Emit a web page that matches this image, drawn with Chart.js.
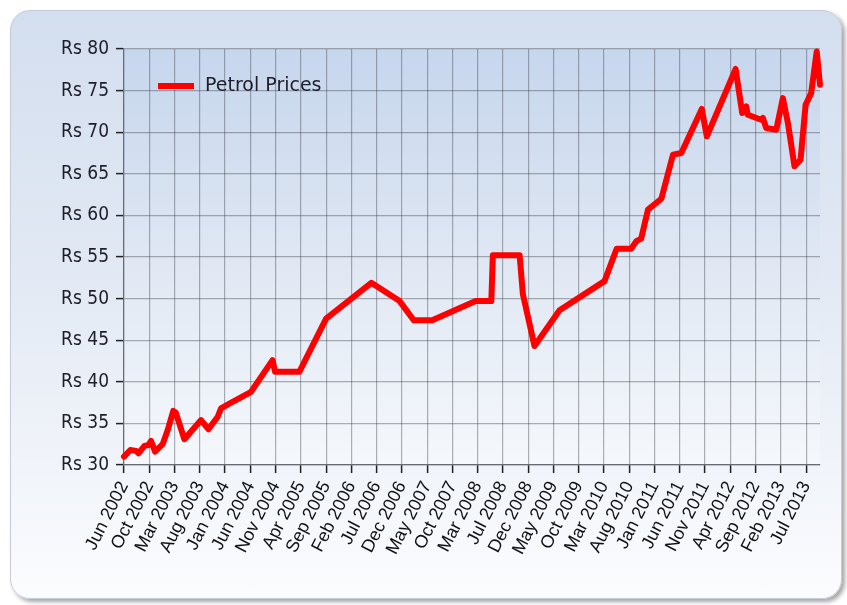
<!DOCTYPE html>
<html>
<head>
<meta charset="utf-8">
<script src="https://cdn.jsdelivr.net/npm/chart.js@4/dist/chart.umd.min.js"></script>
<style>
  html, body { margin: 0; padding: 0; background: #fff; }
  #panel {
    position: absolute; left: 10px; top: 10px; width: 830px; height: 587px;
    border: 1px solid #c3ccd8; border-radius: 20px;
    background: linear-gradient(#d3deef 0%, #e2e9f4 45%, #fbfcfe 100%);
    box-shadow: 3px 3px 4px rgba(0,0,0,0.35);
  }
  #wrap { position: absolute; left: 0; top: 0; width: 847px; height: 605px; }
</style>
</head>
<body>
<div id="panel"></div>
<div id="wrap"><canvas id="myChart"></canvas></div>
<script>
// x labels, one per vertical grid line
const tickLabels = ['Jun 2002', 'Oct 2002', 'Mar 2003', 'Aug 2003', 'Jan 2004', 'Jun 2004', 'Nov 2004',
    'Apr 2005', 'Sep 2005', 'Feb 2006', 'Jul 2006', 'Dec 2006', 'May 2007', 'Oct 2007', 'Mar 2008',
    'Jul 2008', 'Dec 2008', 'May 2009', 'Oct 2009', 'Mar 2010', 'Aug 2010', 'Jan 2011', 'Jun 2011',
    'Nov 2011', 'Apr 2012', 'Sep 2012', 'Feb 2013', 'Jul 2013'];

// position of each price change along the labelled axis (0 = Jun 2002, 1 = Oct 2002, ...)
const xPos = [0.00, 0.25, 0.48, 0.57, 0.81, 0.97, 1.07, 1.23, 1.53, 1.73, 1.95, 2.05, 2.39, 3.05,
    3.34, 3.71, 3.84, 4.30, 5.03, 5.88, 5.98, 6.94, 8.00, 9.79, 10.91, 11.47, 12.20, 13.92, 14.54,
    14.60, 15.66, 15.79, 16.25, 17.24, 19.02, 19.50, 20.08, 20.28, 20.47, 20.74, 21.27, 21.73, 22.06,
    22.87, 23.07, 24.21, 24.47, 24.63, 24.69, 25.22, 25.29, 25.42, 25.82, 26.08, 26.28, 26.54, 26.78,
    26.98, 27.20, 27.42, 27.55];

// petrol price, Rs per litre
const prices = [31.0, 31.8, 31.7, 31.4, 32.3, 32.4, 32.9, 31.6, 32.5, 34.2, 36.5, 36.3, 33.1, 35.4,
    34.3, 35.8, 36.8, 37.6, 38.8, 42.6, 41.2, 41.2, 47.6, 51.9, 49.7, 47.4, 47.4, 49.7, 49.7,
    55.2, 55.2, 50.5, 44.3, 48.6, 52.1, 56.0, 56.0, 56.9, 57.2, 60.7, 62.0, 67.3, 67.5,
    72.8, 69.5, 77.6, 72.3, 73.1, 72.1, 71.5, 71.7, 70.5, 70.3, 74.1, 71.1, 65.9, 66.7,
    73.3, 74.7, 79.7, 75.7];

const yTicks = [30, 35, 40, 45, 50, 55, 60, 65, 70, 75, 80];

// plot area background
const plotBg = {
    id: 'plotBg',
    beforeDraw(chart) {
        const { ctx, chartArea: a } = chart;
        const g = ctx.createLinearGradient(0, a.top, 0, a.bottom);
        g.addColorStop(0, '#c6d6ed');
        g.addColorStop(0.5, '#dfe7f3');
        g.addColorStop(1, '#f5f8fc');
        ctx.save();
        ctx.fillStyle = g;
        ctx.fillRect(a.left, a.top, a.right - a.left, a.bottom - a.top);
        ctx.restore();
    }
};

// legend sits inside the plot, top left
const insideLegend = {
    id: 'insideLegend',
    afterDatasetsDraw(chart) {
        const { ctx, chartArea: a } = chart;
        const ds = chart.data.datasets[0];
        ctx.save();
        ctx.fillStyle = ds.borderColor;
        ctx.fillRect(a.left + 34, a.top + 34, 36, 6);
        ctx.fillStyle = '#1e1e2a';
        ctx.font = '19px "DejaVu Sans"';
        ctx.textBaseline = 'middle';
        ctx.fillText(ds.label, a.left + 81, a.top + 37);
        ctx.restore();
    }
};

const ctx = document.getElementById('myChart').getContext('2d');

new Chart(ctx, {
    type: 'line',
    data: {
        datasets: [{
            label: 'Petrol Prices',
            data: xPos.map((x, i) => ({ x: x, y: prices[i] })),
            borderColor: '#ff0000',
            borderWidth: 6,
            borderJoinStyle: 'round',
            borderCapStyle: 'round',
            pointRadius: 0,
            tension: 0,
            fill: false,
            clip: 6
        }]
    },
    options: {
        responsive: true,
        maintainAspectRatio: false,
        animation: false,
        layout: { padding: { left: 10, top: 49, right: 27, bottom: 5 } },
        plugins: {
            legend: { display: false },
            tooltip: { enabled: false }
        },
        scales: {
            x: {
                type: 'linear',
                min: 0,
                max: 27.55,
                afterBuildTicks: function(scale) {
                    scale.ticks = tickLabels.map((_, i) => ({ value: i }));
                },
                afterFit: function(scale) { scale.height = 135; },
                ticks: {
                    autoSkip: false,
                    minRotation: 63,
                    maxRotation: 63,
                    padding: 5,
                    color: '#111',
                    font: { family: '"Liberation Sans", Arial, sans-serif', size: 18 },
                    callback: function(value) { return tickLabels[value]; }
                },
                grid: {
                    color: 'rgba(60, 62, 72, 0.4)',
                    lineWidth: 1.2,
                    tickLength: 8,
                    tickColor: '#222',
                    tickWidth: 1.5
                },
                border: { color: '#6a6a72', width: 1.2 }
            },
            y: {
                min: 30,
                max: 80,
                afterBuildTicks: function(scale) {
                    scale.ticks = yTicks.map(v => ({ value: v }));
                },
                afterFit: function(scale) { scale.width = 114; },
                ticks: {
                    padding: 7,
                    color: '#1e1e2a',
                    font: { family: '"DejaVu Sans Condensed", "DejaVu Sans", sans-serif', size: 19 },
                    callback: function(value) { return 'Rs ' + value; }
                },
                grid: {
                    color: 'rgba(60, 62, 72, 0.4)',
                    lineWidth: 1.2,
                    tickLength: 8,
                    tickColor: '#222',
                    tickWidth: 1.5
                },
                border: { color: '#6a6a72', width: 1.2 }
            }
        }
    },
    plugins: [plotBg, insideLegend]
});
</script>
</body>
</html>
